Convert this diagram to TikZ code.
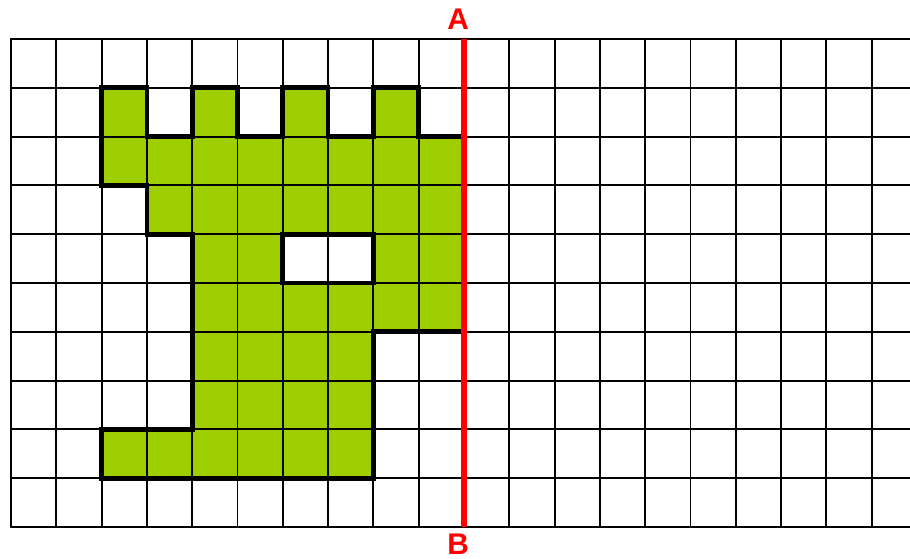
\documentclass[tikz,border=0pt]{standalone}
\usepackage{fontspec}
\setmainfont{Liberation Sans}
\usepackage{xcolor}
\definecolor{leaf}{RGB}{158,205,0}
\tikzset{
  every picture/.style={line join=round, line cap=round},
  gridline/.style={line width=1.1pt},
  outline/.style={line width=2.7pt, line join=miter},
  cutline/.style={red, line width=3.1pt, line cap=butt},
  lab/.style={red, font=\fontsize{17}{20}\selectfont\bfseries, inner sep=0pt},
}

\begin{document}
\begin{tikzpicture}[x=0.906cm,y=0.976cm]
\useasboundingbox (-0.243,-0.656) rectangle (19.846,10.799);
% shape with a hole
\fill[leaf,even odd rule](2,9)--(3,9)--(3,8)--(4,8)--(4,9)--(5,9)--(5,8)--(6,8)--(6,9)--(7,9)--(7,8)--(8,8)--(8,9)--(9,9)--(9,8)--(10,8)
--(10,4)--(8,4)--(8,1)--(2,1)--(2,2)--(4,2)--(4,6)--(3,6)--(3,7)--(2,7)--cycle
(6,5) rectangle (8,6);
% grid
\foreach \i in {0,...,19}
  \draw[gridline](\i,0)--(\i,10);
\foreach \j in {0,...,10}
  \draw[gridline](0,\j)--(19.846,\j);
\draw[outline](2,9)--(3,9)--(3,8)--(4,8)--(4,9)--(5,9)--(5,8)--(6,8)--(6,9)--(7,9)--(7,8)--(8,8)--(8,9)--(9,9)--(9,8)--(10,8)
--(10,4)--(8,4)--(8,1)--(2,1)--(2,2)--(4,2)--(4,6)--(3,6)--(3,7)--(2,7)--cycle
(6,5) rectangle (8,6);
% cut line
\coordinate (top) at (10,10);
\coordinate (bot) at (10,0);
\draw[cutline](top)--(bot);
\node[lab] (labA) at (9.87,10.4) {A};
\node[lab] (labB) at (9.87,-0.36) {B};
\end{tikzpicture}
\end{document}
